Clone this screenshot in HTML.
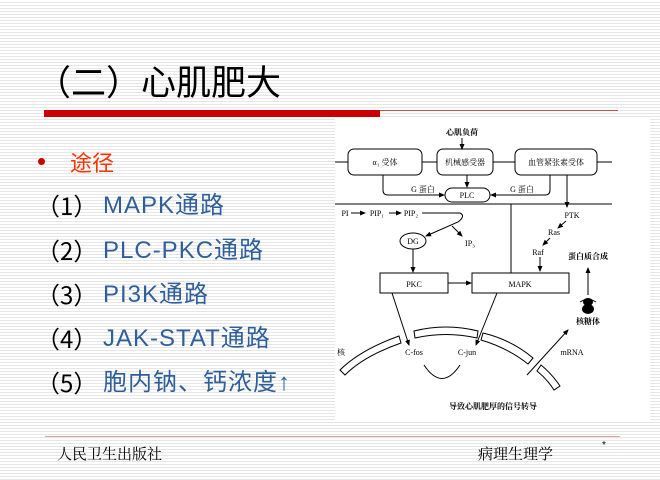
<!DOCTYPE html>
<html><head><meta charset="utf-8"><style>
html,body{margin:0;padding:0}
body{width:660px;height:480px;overflow:hidden;position:relative;background:repeating-linear-gradient(to bottom,#fff 0,#fff 2px,#e6e6e6 2px,#e6e6e6 3px);font-family:"Liberation Sans","Noto Sans CJK SC",sans-serif}
.t{position:absolute;white-space:nowrap}
.n{position:absolute;white-space:nowrap;left:36px;font-size:24px;line-height:28px;color:#000;font-family:"Noto Sans CJK SC",sans-serif}
.b{position:absolute;white-space:nowrap;left:103px;font-size:24px;letter-spacing:1px;line-height:28px;color:#2e5f9a}
</style></head><body>
<div class="t" style="left:36px;top:55px;font-size:35px;color:#000;font-family:'Noto Sans CJK SC',sans-serif">（二）心肌肥大</div>
<div style="position:absolute;left:44px;top:110px;width:336px;height:7px;background:#cc0000"></div>
<div style="position:absolute;left:380px;top:110px;width:238px;height:1px;background:#d05050"></div>
<div style="position:absolute;left:38px;top:158px;width:7px;height:7px;border-radius:50%;background:#cc0000"></div>
<div class="t" style="left:70px;top:146px;font-size:22px;color:#ff3300;font-family:'Noto Sans CJK SC',sans-serif">途径</div>
<div class="n" style="top:191px">（1）</div><div class="b" style="top:192px">MAPK通路</div>
<div class="n" style="top:236px">（2）</div><div class="b" style="top:237px">PLC-PKC通路</div>
<div class="n" style="top:280px">（3）</div><div class="b" style="top:281px">PI3K通路</div>
<div class="n" style="top:324px">（4）</div><div class="b" style="top:325px">JAK-STAT通路</div>
<div class="n" style="top:368px">（5）</div><div class="b" style="top:369px">胞内钠、钙浓度↑</div>

<svg style="position:absolute;left:0;top:0" width="660" height="480" font-family="Liberation Serif,Noto Serif CJK SC,serif">
<defs><marker id="a" markerWidth="6" markerHeight="6" refX="5" refY="3" orient="auto"><path d="M0,0.5 L6,3 L0,5.5z" fill="#000"/></marker></defs>
<rect x="335" y="118" width="315" height="302" fill="#fff"/>
<g stroke="#000" stroke-width="1" fill="none">
<line x1="335" y1="162" x2="348" y2="162"/><line x1="422" y1="162" x2="437" y2="162"/><line x1="493" y1="162" x2="515" y2="162"/><line x1="597" y1="162" x2="612" y2="162"/>
<rect x="348" y="149" width="74" height="26" rx="6" fill="#fff"/>
<rect x="437" y="149" width="56" height="26" rx="6" fill="#fff"/>
<rect x="515" y="149" width="82" height="26" rx="6" fill="#fff"/>
<line x1="462" y1="138" x2="462" y2="149" marker-end="url(#a)"/>
<path d="M383,175 V190 Q383,195 388,195 H444" marker-end="url(#a)"/>
<path d="M550,175 V190 Q550,195 545,195 H491" marker-end="url(#a)"/>
<line x1="467" y1="175" x2="467" y2="187" marker-end="url(#a)"/>
<rect x="445" y="188" width="45" height="14" rx="7" fill="#fff"/>
<line x1="335" y1="204" x2="612" y2="204"/>
<line x1="511" y1="204" x2="511" y2="273"/>
<line x1="567" y1="175" x2="567" y2="207" marker-end="url(#a)"/>
<line x1="351" y1="213" x2="365" y2="213" marker-end="url(#a)"/>
<line x1="389" y1="213" x2="401" y2="213" marker-end="url(#a)"/>
<path d="M422,213 H460 Q466,216 458,222 L426,236" marker-end="url(#a)"/>
<line x1="452" y1="226" x2="462" y2="236" marker-end="url(#a)"/>
<ellipse cx="413" cy="241" rx="13" ry="8" fill="#fff"/>
<line x1="566" y1="221" x2="558" y2="228" marker-end="url(#a)"/>
<line x1="550" y1="238" x2="543" y2="245" marker-end="url(#a)"/>
<line x1="540" y1="257" x2="540" y2="271" marker-end="url(#a)"/>
<line x1="413" y1="249" x2="413" y2="272" marker-end="url(#a)"/>
<rect x="380" y="273" width="68" height="20" fill="#fff"/>
<rect x="472" y="273" width="97" height="20" fill="#fff"/>
<line x1="448" y1="283" x2="471" y2="283" marker-end="url(#a)"/>
<line x1="392" y1="293" x2="409" y2="345" marker-end="url(#a)"/>
<line x1="497" y1="293" x2="476" y2="345" marker-end="url(#a)"/>
<path d="M424,365 Q442,392 460,365"/>
<line x1="588" y1="295" x2="588" y2="268" marker-end="url(#a)"/>
<line x1="527" y1="375" x2="568" y2="330" marker-end="url(#a)"/>
<path d="M340,370 Q360,350 399,336 L401,343 Q364,356 345,375z" fill="#fff"/>
<path d="M414,331 Q446,323 478,331 L477,338 Q446,331 415,338z" fill="#fff"/>
<path d="M483,333 Q512,340 533,358 L528,364 Q508,348 481,340z" fill="#fff"/>
<path d="M541,365 Q552,374 560,386 L554,390 Q547,379 537,371z" fill="#fff"/>
<path d="M580,302 Q588,297 596,302"/>
</g>
<ellipse cx="588" cy="302" rx="5" ry="4" fill="#000"/><ellipse cx="588" cy="309" rx="6" ry="5" fill="#000"/>
<g font-size="8" fill="#000" text-anchor="middle">
<text x="462" y="135" font-weight="bold">心肌负荷</text>
<text x="385" y="165">α₁ 受体</text>
<text x="465" y="165">机械感受器</text>
<text x="556" y="165">血管紧张素受体</text>
<text x="423" y="192">G 蛋白</text>
<text x="522" y="192">G 蛋白</text>
<text x="467" y="198">PLC</text>
<text x="345" y="216">PI</text><text x="377" y="216">PIP₁</text><text x="411" y="216">PIP₂</text>
<text x="572" y="218">PTK</text>
<text x="413" y="244">DG</text>
<text x="470" y="246">IP₃</text>
<text x="554" y="235">Ras</text>
<text x="538" y="255">Raf</text>
<text x="588" y="259" font-weight="bold">蛋白质合成</text>
<text x="414" y="287">PKC</text>
<text x="520" y="287">MAPK</text>
<text x="588" y="324" font-weight="bold">核糖体</text>
<text x="414" y="355">C-fos</text>
<text x="467" y="355">C-jun</text>
<text x="572" y="355">mRNA</text>
<text x="341" y="355">核</text>
<text x="493" y="409" font-weight="bold">导致心肌肥厚的信号转导</text>
</g>
</svg>

<div style="position:absolute;left:45px;top:436px;width:575px;height:1px;background:#e0a0a0"></div>
<div class="t" style="left:57px;top:443px;font-size:15px;font-family:'Noto Serif CJK SC',serif">人民卫生出版社</div>
<div class="t" style="left:478px;top:443px;font-size:15px;font-family:'Noto Serif CJK SC',serif">病理生理学</div>
<div class="t" style="left:602px;top:440px;font-size:10px">*</div>
</body></html>
